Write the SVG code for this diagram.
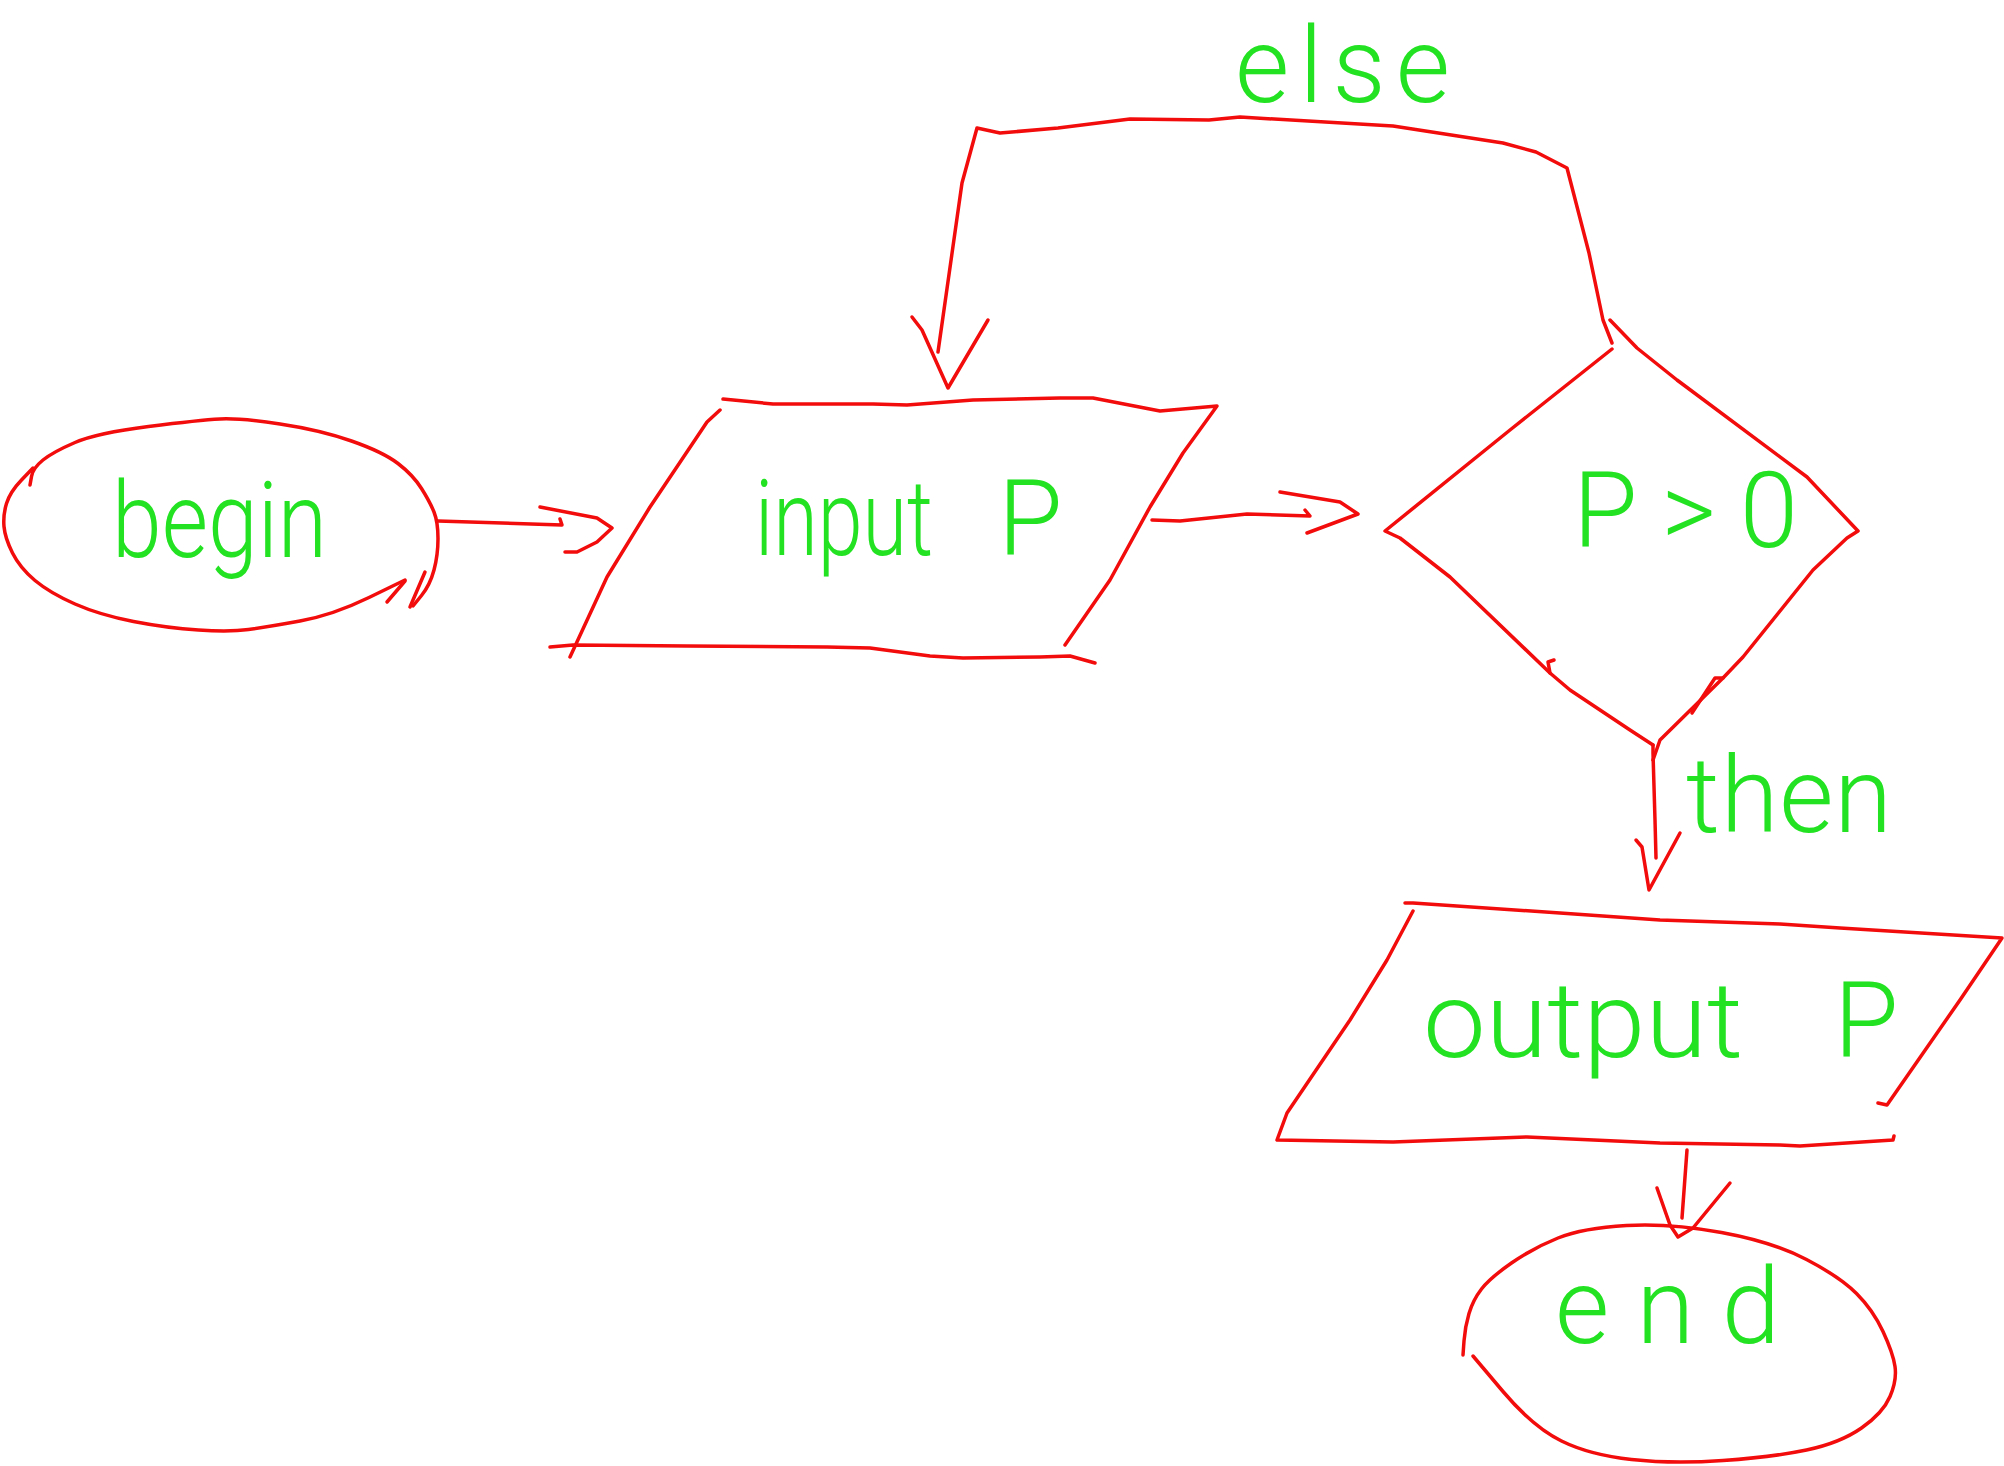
<svg xmlns="http://www.w3.org/2000/svg" width="2004" height="1466" viewBox="0 0 2004 1466">
<style>
.s{fill:none;stroke:#f20c0c;stroke-width:3.5;stroke-linejoin:round;stroke-linecap:round}
.t{fill:#22e222;font-family:Roboto,"Liberation Sans",sans-serif;font-weight:300;font-size:105px}
</style>
<rect width="2004" height="1466" fill="#ffffff"/>
<g id="node-begin">
<path class="s" d="M30,485 L31.5,476.5 Q33,468 43,460 Q53,452 75,442.5 Q97,433 148.5,426.5 Q200,420 220,419 Q240,418 280,424 Q320,430 351.5,441 Q383,452 398,463.5 Q413,475 421.5,488.5 Q430,502 434,512 Q438,522 438,538.5 Q438,555 434,570 Q430,585 421.5,595.5 L413,606"/>
<path class="s" d="M405,580 L369,597.5 Q333,615 300,621 Q267,627 248.5,629.5 Q230,632 198.5,630 Q167,628 133.5,621.5 Q100,615 75,604 Q50,593 35,580.5 Q20,568 12.5,553 Q5,538 4,526.5 Q3,515 6.5,503.5 Q10,492 21.5,480 L33,468"/>
<path class="s" d="M387,602 L405,581 M410,607 L425,572"/>
<text class="t" x="112" y="557" textLength="215" lengthAdjust="spacingAndGlyphs">begin</text>
</g>
<g id="node-input">
<path class="s" d="M723,399 L773,404 L873,404 L907,405 L973,400 L1060,398 L1093,398 L1160,411 L1217,406 L1183,453 L1150,507 L1110,580 L1065,645"/>
<path class="s" d="M720,410 L707,422 L650,507 L607,577 L570,657"/>
<path class="s" d="M550,647 L573,645 L687,646 L827,647 L870,648 L930,656 L963,658 L1040,657 L1070,656 L1095,663"/>
<text class="t" y="555"><tspan x="755" textLength="178" lengthAdjust="spacingAndGlyphs">input</tspan> <tspan x="998">P</tspan></text>
</g>
<g id="node-decision">
<path class="s" d="M1610,320 L1637,348 L1677,380 L1807,477 L1858,531 L1847,538 L1813,570 L1743,657 L1723,678 L1660,740 L1653,760"/>
<path class="s" d="M1612,349 L1510,430 L1385,531 L1400,538 L1450,577 L1550,673 L1570,690 L1630,730 L1653,745"/>
<path class="s" d="M1550,673 L1548,662 L1554,660 M1692,713 L1715,678 L1723,678"/>
<text class="t" x="1573" y="547" textLength="225" lengthAdjust="spacing">P &gt; 0</text>
</g>
<g id="node-output">
<path class="s" d="M1405,903 L1413,903 L1560,913 L1660,920 L1780,924 L1840,928 L2002,938 L1960,1000 L1887,1105 L1878,1103"/>
<path class="s" d="M1413,911 L1387,960 L1350,1020 L1287,1113 L1277,1140 L1393,1142 L1527,1137 L1660,1143 L1780,1145 L1800,1146 L1893,1140 L1894,1136"/>
<text class="t" y="1057"><tspan x="1423" textLength="320" lengthAdjust="spacingAndGlyphs">output</tspan> <tspan x="1834">P</tspan></text>
</g>
<g id="node-end">
<path class="s" d="M1463,1355 L1464,1341 Q1465,1327 1469,1313.5 Q1473,1300 1481.5,1289 Q1490,1278 1511.5,1263 Q1533,1248 1558,1238 Q1583,1228 1626.5,1225.5 Q1670,1223 1721.5,1232.5 Q1773,1242 1806.5,1259.5 Q1840,1277 1856.5,1293.5 Q1873,1310 1883,1331.5 Q1893,1353 1895,1366.5 Q1897,1380 1890,1396.5 Q1883,1413 1861.5,1428 Q1840,1443 1806.5,1450 Q1773,1457 1723,1460.5 Q1673,1464 1631.5,1459.5 Q1590,1455 1561.5,1441 Q1533,1427 1503,1391.5 L1473,1356"/>
<text class="t" x="1555" y="1343" textLength="225" lengthAdjust="spacing">end</text>
</g>
<g id="connectors">
<path class="s" d="M438,521 L562,525 L560,519"/>
<path class="s" d="M540,507 L597,518 L612,528 L597,542 L577,552 L565,552"/>
<path class="s" d="M1152,520 L1180,521 L1247,514 L1310,516 L1305,510"/>
<path class="s" d="M1280,492 L1340,502 L1358,514 L1307,533"/>
<path class="s" d="M1612,343 L1603,320 L1589,253 L1567,168 L1536,152 L1503,143 L1393,126 L1240,117 L1209,120 L1130,119 L1058,128 L1000,133 L977,128 L962,183 L938,352"/>
<path class="s" d="M912,317 L922,330 L948,388 L988,320"/>
<text class="t" x="1235" y="102" textLength="215" lengthAdjust="spacing">else</text>
<path class="s" d="M1653,745 L1653,753 L1655,820 L1656,858"/>
<path class="s" d="M1636,840 L1642,847 L1649,890 L1680,833"/>
<text class="t" x="1686" y="832" textLength="206" lengthAdjust="spacing">then</text>
<path class="s" d="M1687,1150 L1682,1218"/>
<path class="s" d="M1657,1188 L1670,1225 L1678,1237 L1693,1228 L1730,1183"/>
</g>
</svg>
